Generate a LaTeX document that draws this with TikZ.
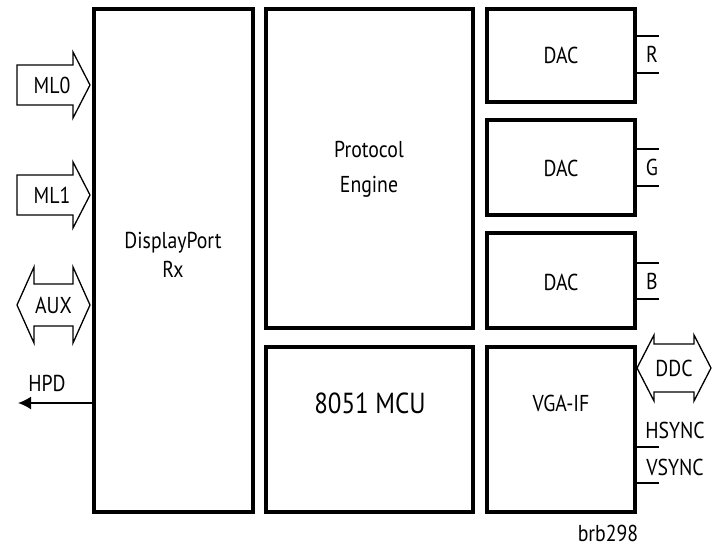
\documentclass[tikz,border=0pt]{standalone}
\usepackage{fontspec}
\setmainfont{PT Sans}[FakeStretch=0.86]
\usepackage{tikz}
\usetikzlibrary{arrows.meta,calc}

\begin{document}
\begin{tikzpicture}[x=1pt,y=-1pt,
    blk/.style={draw,line width=3.2pt},
    busline/.style={draw,line width=1.3pt,line join=miter},
    pin/.style={line width=1.8pt},
    lbl/.style={font=\fontsize{23}{27}\selectfont,inner sep=0pt},
    biglbl/.style={font=\fontsize{29}{33}\selectfont,inner sep=0pt}]
    \useasboundingbox (0,0) rectangle (717,546);
    % main blocks
    \draw[blk] (94,9) rectangle (253,512);
    \draw[blk] (266,9) rectangle (473,328);
    \draw[blk] (266,347) rectangle (473,512);
    \draw[blk] (487,9) rectangle (635,102);
    \draw[blk] (487,120) rectangle (635,215);
    \draw[blk] (487,233) rectangle (635,328);
    \draw[blk] (487,347) rectangle (635,512);
    \node[lbl] (dprx) at (173,258) {\begin{tabular}{c}DisplayPort\\[2pt]Rx\end{tabular}};
    \node[lbl] (pe) at (369,170) {\begin{tabular}{c}Protocol\\[8pt]Engine\end{tabular}};
    \node[biglbl] (mcu) at (370,403) {8051 MCU};
    \node[lbl] (vga) at (561,403) {VGA-IF};
    \foreach \yc/\nm in {55/dacr,168/dacg,282/dacb} \node[lbl] (\nm) at (561,\yc) {DAC};
    % R G B outputs
    \foreach \yt/\yb/\c in {36/73/R,149/186/G,263/299/B} {
      \draw[pin] (635,\yt) -- (659,\yt);
      \draw[pin] (635,\yb) -- (659,\yb);
      \node[lbl] at (652,{(\yt+\yb)/2}) {\c};
    }
    % input lanes
    \foreach \yc/\ln in {85/ML0,195/ML1} {
      \draw[busline] (17,\yc-20) -- (73,\yc-20) -- (73,\yc-33) -- (90,\yc)
        -- (73,\yc+33) -- (73,\yc+20) -- (17,\yc+20) -- cycle;
      \node[lbl] at (52,\yc) {\ln};
    }
    % aux and ddc
    \foreach \xl/\xr/\yc/\hw/\bw/\ln in {17/90/305/38/21/AUX,637/711/368/33/24/DDC} {
      \draw[busline] (\xl,\yc) -- (\xl+17,\yc-\hw) -- (\xl+17,\yc-\bw) -- (\xr-17,\yc-\bw)
        -- (\xr-17,\yc-\hw) -- (\xr,\yc) -- (\xr-17,\yc+\hw) -- (\xr-17,\yc+\bw)
        -- (\xl+17,\yc+\bw) -- (\xl+17,\yc+\hw) -- cycle;
      \node[lbl] at ({(\xl+\xr)/2},\yc) {\ln};
    }
    % hpd
    \coordinate (hpdend) at (18,403);
    \draw[pin,-{Latex[length=13pt,width=13pt]}] (94,403) -- (hpdend);
    \node[lbl] (hpd) at (47,383) {HPD};
    % sync lines
    \draw[pin] (635,447) -- (659,447);
    \draw[pin] (635,483) -- (659,483);
    \node[lbl] (hs) at (675,430) {HSYNC};
    \node[lbl] (vs) at (675,467) {VSYNC};
    \node[lbl] (tag) at (608,533) {brb298};
\end{tikzpicture}
\end{document}
